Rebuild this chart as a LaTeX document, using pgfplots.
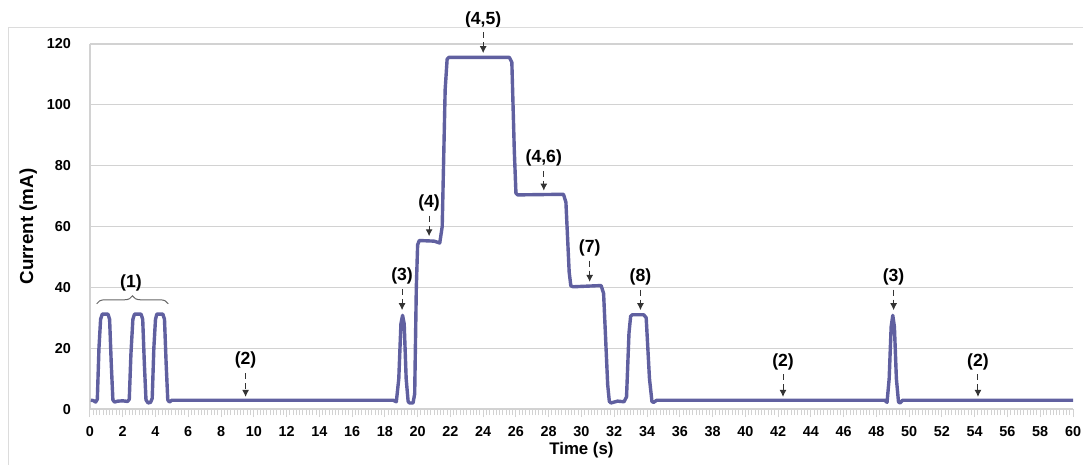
\documentclass[border=0pt]{standalone}
\usepackage{fontspec}
\setmainfont{Liberation Sans}
\usepackage{pgfplots}
\pgfplotsset{compat=1.18}
\usetikzlibrary{arrows.meta,decorations.pathreplacing}

\definecolor{trace}{RGB}{96,96,160}
\definecolor{gridgray}{RGB}{210,210,210}
\definecolor{framegray}{RGB}{220,220,220}

\tikzset{ann/.style={densely dashed, line width=0.5pt, black!80,
    -{Latex[length=3.5pt,width=3.5pt]}},
  lab/.style={anchor=center, inner sep=0pt, font=\fontsize{8.8}{9}\selectfont\bfseries}}
% x, label centre, arrow start, arrow tip, text
\newcommand{\callout}[5]{%
  \draw[ann] (axis cs:#1,#3) -- (axis cs:#1,#4);
  \node[lab] at (axis cs:#1,#2) {#5};}

\begin{document}
\begin{tikzpicture}
\begin{axis}[
    scale only axis,
    width=491.5pt, height=182.5pt,
    xmin=0, xmax=60, ymin=0, ymax=120,
    xtick={0,2,...,60}, ytick={0,20,...,120},
    minor x tick num=9,
    axis x line*=bottom, axis y line*=left,
    axis line style={draw=gridgray, line width=0.6pt, -},
    ymajorgrids, grid style={draw=gridgray, line width=0.6pt},
    x tick style={draw=gridgray, line width=0.5pt},
    y tick style={draw=none},
    major tick length=4pt, minor tick length=3pt,
    tick align=outside,
    /pgf/number format/assume math mode=true,
    tick label style={font=\fontsize{7.2}{8}\selectfont\bfseries},
    xticklabel style={yshift=-1pt},
    yticklabel style={xshift=-2pt},
    xlabel={Time (s)}, ylabel={Current (mA)},
    xlabel style={font=\fontsize{8.4}{10}\selectfont\bfseries, yshift=4pt},
    ylabel style={font=\fontsize{9.4}{10}\selectfont\bfseries, yshift=-2pt},
    clip=false,
]
\addplot[trace, line width=1.7pt, line join=round] coordinates {
(0.05,2.9) (0.2,2.8) (0.35,2.3) (0.45,3.2) (0.55,20) (0.65,29.5) (0.75,31.2)
(1.1,31.2) (1.2,29.5) (1.3,15) (1.4,3) (1.5,2.3) (1.7,2.6) (2.0,2.7) (2.3,2.5)
(2.4,3.2) (2.5,18) (2.62,29.5) (2.72,31.2) (3.12,31.2) (3.22,29.5) (3.32,15)
(3.42,3) (3.55,2.0) (3.7,2.2) (3.8,3.5) (3.9,20) (4.0,29.5) (4.08,31.2)
(4.45,31.2) (4.55,29.5) (4.65,15) (4.75,3) (4.85,2.3) (5.0,2.9)
(18.5,2.9) (18.7,2.4) (18.85,10) (18.98,28) (19.08,30.8) (19.18,28) (19.3,10)
(19.42,2.5) (19.5,2.0) (19.72,2.0) (19.82,5) (19.92,40) (20.0,54) (20.1,55.4)
(21.0,55.2) (21.35,54.6) (21.5,60) (21.68,105) (21.8,115) (21.9,115.6)
(25.6,115.6) (25.75,114) (25.9,85) (26.0,71) (26.1,70.4) (28.9,70.6)
(29.05,68) (29.25,45) (29.35,40.5) (29.5,40.2) (31.2,40.6) (31.35,38)
(31.6,8) (31.7,2.5) (31.8,2.0) (32.2,2.6) (32.6,2.4) (32.75,4) (32.9,25)
(33.0,30.5) (33.1,31) (33.8,31) (33.95,30) (34.15,10) (34.3,2.5) (34.4,2.2)
(34.6,2.9) (48.5,2.9) (48.65,2.2) (48.78,10) (48.9,27) (49.0,30.8) (49.1,27)
(49.22,10) (49.35,2.3) (49.45,2.0) (49.6,2.9) (60,2.9)
};

% annotations
\callout{9.5}{16}{11.8}{4.0}{(2)}
\callout{19.05}{43.7}{39.5}{32.5}{(3)}
\callout{20.7}{67.8}{63.6}{56.8}{(4)}
\callout{24}{128}{123.8}{117}{(4,5)}
\callout{27.7}{82.5}{78.3}{71.8}{(4,6)}
\callout{30.5}{53}{48.8}{41.8}{(7)}
\callout{33.6}{43.5}{39.3}{32.5}{(8)}
\callout{42.3}{15.6}{11.4}{4.0}{(2)}
\callout{49.05}{43.5}{39.3}{32.5}{(3)}
\callout{54.2}{15.6}{11.4}{4.0}{(2)}
\draw[decorate, decoration={brace, amplitude=4pt}, black!60, line width=0.5pt]
  (axis cs:0.41,34.6) -- (axis cs:4.78,34.6);
\node[lab] at (axis cs:2.5,41.5) {(1)};

% outer chart frame
\draw[framegray, line width=0.6pt] (axis cs:-4.95,-20) -- (axis cs:-4.95,125.3) -- (axis cs:62,125.3);
\coordinate (bbl) at (axis cs:-5.49,-18.08);
\coordinate (btr) at (axis cs:60.61,134.47);
\end{axis}
\pgfresetboundingbox
\path (bbl) rectangle (btr);
\end{tikzpicture}
\end{document}
